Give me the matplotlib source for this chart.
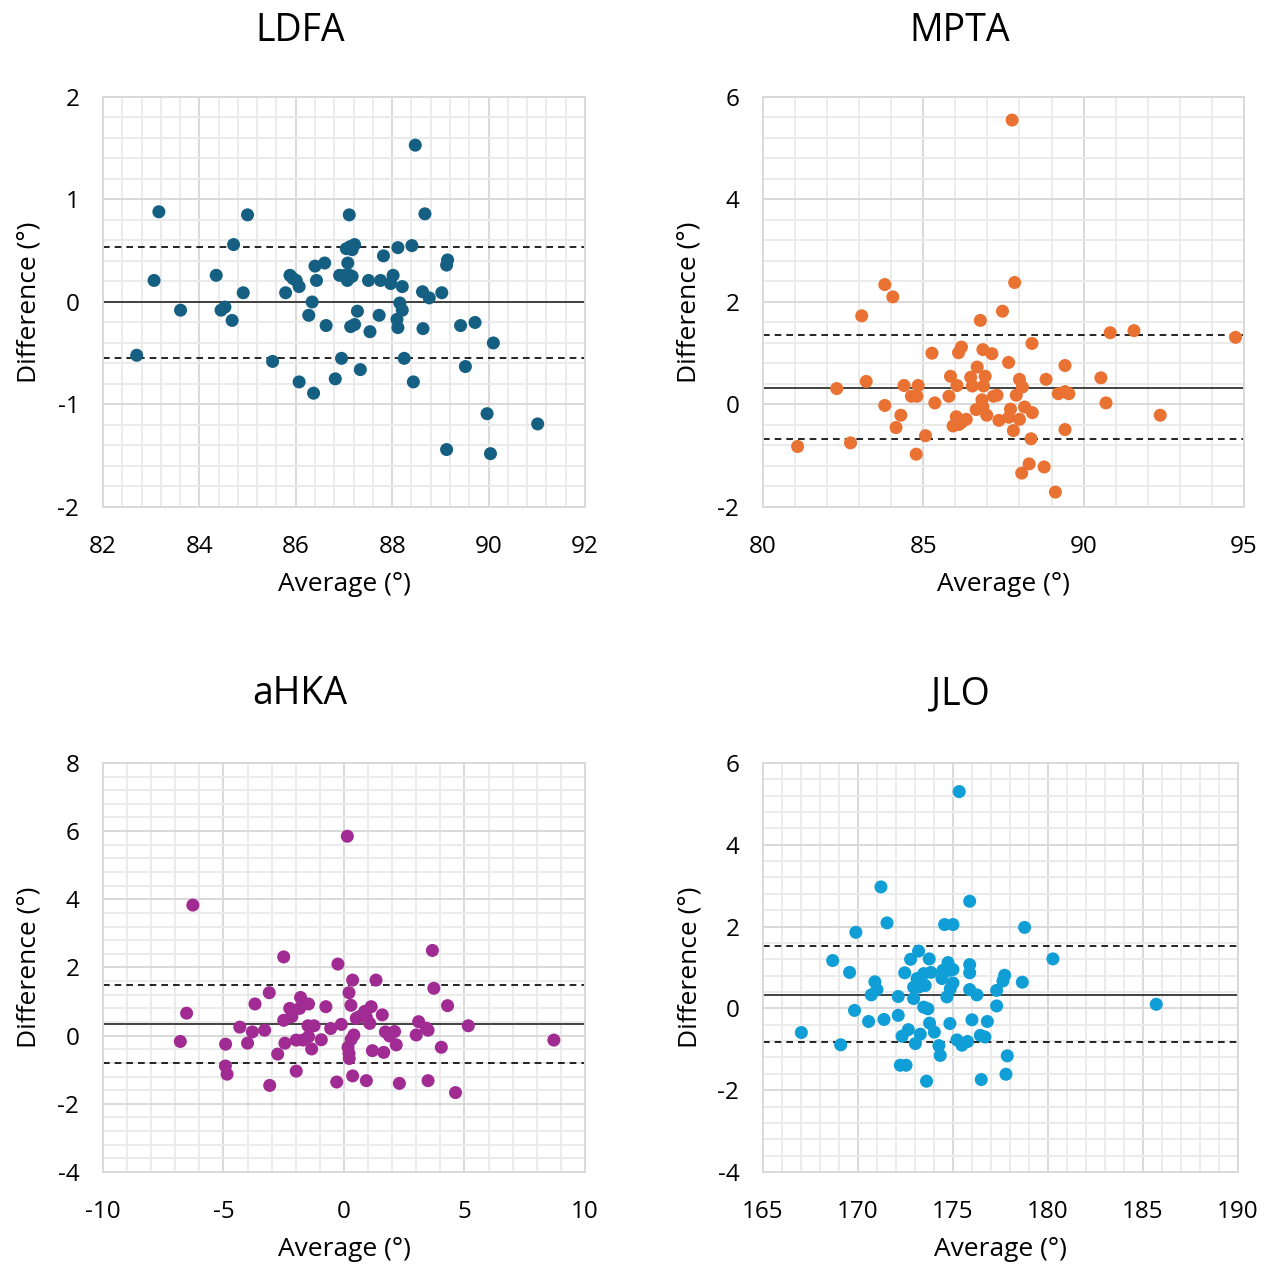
import numpy as np
import matplotlib
matplotlib.use('Agg')
import matplotlib.pyplot as plt
from matplotlib.ticker import MultipleLocator

plt.rcParams['font.family'] = ['Open Sans', 'DejaVu Sans']
plt.rcParams['axes.unicode_minus'] = False

# LDFA
ldfa_avg = [88.48, 83.16, 85.00, 87.11, 88.68, 84.71, 87.05, 87.13, 87.22, 87.17,
            88.12, 88.41, 87.82, 89.15, 89.13, 86.60, 86.40, 87.08, 83.06, 84.35,
            85.88, 85.94, 86.01, 86.07, 86.43, 86.91, 87.02, 87.12, 87.07, 87.17,
            87.51, 87.76, 88.02, 87.97, 88.21, 84.91, 85.79, 88.63, 88.77, 89.03,
            86.34, 88.16, 88.21, 83.61, 84.45, 84.53, 87.28, 86.27, 87.73, 84.68,
            88.10, 88.12, 86.63, 87.14, 87.22, 88.64, 87.54, 89.42, 89.72, 90.10,
            82.70, 85.52, 86.95, 88.25, 87.34, 89.52, 86.07, 86.82, 88.44, 86.37,
            89.97, 91.02, 89.13, 90.04]
ldfa_diff = [1.53, 0.88, 0.85, 0.85, 0.86, 0.56, 0.52, 0.54, 0.56, 0.51,
             0.53, 0.55, 0.45, 0.41, 0.36, 0.38, 0.35, 0.38, 0.21, 0.26,
             0.26, 0.23, 0.21, 0.15, 0.21, 0.26, 0.26, 0.26, 0.21, 0.25,
             0.21, 0.21, 0.26, 0.18, 0.15, 0.09, 0.09, 0.10, 0.04, 0.09,
             0.00, -0.01, -0.08, -0.08, -0.08, -0.05, -0.09, -0.13, -0.13, -0.18,
             -0.17, -0.25, -0.23, -0.24, -0.22, -0.26, -0.29, -0.23, -0.20, -0.40,
             -0.52, -0.58, -0.55, -0.55, -0.66, -0.63, -0.78, -0.75, -0.78, -0.89,
             -1.09, -1.19, -1.44, -1.48]
ldfa_lines = [0.0, 0.54, -0.545]

# MPTA
mpta_avg = [87.77, 87.85, 83.80, 84.05, 83.08, 87.47, 86.78, 90.83, 91.57, 94.74,
            88.39, 85.27, 86.10, 86.19, 86.86, 87.14, 87.66, 86.68, 89.42, 85.85,
            86.48, 86.93, 88.00, 88.83, 90.54, 83.22, 82.30, 84.40, 84.84, 86.05,
            86.53, 86.88, 88.09, 87.90, 87.30, 87.19, 89.21, 89.42, 89.54, 84.63,
            84.80, 85.80, 86.83, 90.70, 85.36, 83.80, 86.86, 86.65, 88.16, 87.72,
            88.40, 86.98, 84.30, 86.03, 86.34, 86.19, 87.36, 87.67, 88.00, 92.39,
            85.93, 86.11, 84.15, 89.42, 87.81, 85.07, 88.36, 82.73, 81.08, 84.78,
            88.30, 88.07, 88.77, 89.12]
mpta_diff = [5.55, 2.38, 2.34, 2.10, 1.73, 1.82, 1.64, 1.40, 1.44, 1.31,
             1.19, 1.00, 1.01, 1.12, 1.07, 0.99, 0.82, 0.73, 0.76, 0.55,
             0.53, 0.55, 0.49, 0.49, 0.52, 0.45, 0.31, 0.37, 0.37, 0.37,
             0.36, 0.36, 0.34, 0.18, 0.18, 0.16, 0.21, 0.25, 0.21, 0.16,
             0.16, 0.16, 0.09, 0.03, 0.03, -0.02, -0.05, -0.10, -0.05, -0.09,
             -0.16, -0.21, -0.21, -0.24, -0.29, -0.35, -0.31, -0.25, -0.29, -0.21,
             -0.42, -0.39, -0.45, -0.49, -0.51, -0.61, -0.67, -0.75, -0.82, -0.97,
             -1.16, -1.34, -1.22, -1.71]
mpta_lines = [0.33, 1.36, -0.68]

# aHKA
ahka_avg = [0.14, -6.27, -2.50, -0.25, 3.67, 0.36, 1.33, 3.73, 0.21, -3.10,
            -3.69, -1.80, -1.47, -1.84, -2.25, -2.16, -0.75, 0.29, 1.13, 0.86,
            0.65, 0.51, 0.93, 1.59, 4.30, -6.53, -2.50, -0.11, 1.07, 3.10,
            3.42, 3.49, 3.00, 5.16, -4.32, -1.49, -1.24, -0.55, -3.29, -3.80,
            1.72, 2.10, 1.89, 0.41, -1.47, -1.70, -1.98, 0.30, -0.94, -6.79,
            8.71, -4.00, -2.45, -4.91, 2.17, 0.17, 0.21, -1.34, 4.04, 1.18,
            1.65, -2.75, 0.22, -4.92, -4.85, -1.98, 0.36, -0.30, 0.93, 2.30,
            3.49, -3.08, 4.63]
ahka_diff = [5.85, 3.83, 2.31, 2.10, 2.50, 1.63, 1.63, 1.39, 1.26, 1.26,
             0.93, 1.12, 0.93, 0.80, 0.80, 0.56, 0.85, 0.89, 0.85, 0.71,
             0.56, 0.51, 0.54, 0.61, 0.88, 0.66, 0.45, 0.33, 0.36, 0.41,
             0.22, 0.16, 0.02, 0.29, 0.25, 0.29, 0.29, 0.21, 0.16, 0.11,
             0.11, 0.12, -0.01, 0.02, -0.03, -0.13, -0.13, -0.11, -0.12, -0.17,
             -0.13, -0.22, -0.22, -0.25, -0.27, -0.34, -0.52, -0.39, -0.34, -0.44,
             -0.49, -0.54, -0.67, -0.89, -1.13, -1.04, -1.18, -1.36, -1.32, -1.40,
             -1.32, -1.46, -1.67]
ahka_lines = [0.33, 1.48, -0.81]

# JLO
jlo_avg = [175.33, 171.21, 175.88, 171.53, 174.56, 175.00, 178.77, 169.89, 168.67, 180.26,
           173.19, 172.77, 173.75, 174.74, 174.82, 174.47, 175.00, 175.88, 175.88, 169.56,
           172.46, 173.46, 173.84, 173.11, 173.28, 173.54, 172.93, 173.19, 174.42, 175.00,
           174.86, 170.89, 171.00, 170.70, 177.72, 177.63, 178.65, 175.88, 176.26, 177.30,
           172.12, 172.93, 174.68, 173.46, 173.68, 177.30, 169.82, 172.12, 170.56, 171.37,
           173.77, 174.84, 176.00, 176.81, 172.65, 172.32, 173.28, 174.02, 173.02, 167.02,
           169.09, 175.21, 175.47, 175.77, 176.44, 176.68, 174.26, 174.33, 177.86, 172.23,
           172.53, 177.79, 173.61, 176.49, 185.70]
jlo_diff = [5.30, 2.97, 2.62, 2.09, 2.05, 2.05, 1.98, 1.86, 1.17, 1.21,
            1.40, 1.20, 1.21, 1.12, 0.93, 0.93, 0.95, 1.07, 0.87, 0.88,
            0.87, 0.85, 0.88, 0.73, 0.64, 0.56, 0.52, 0.52, 0.73, 0.62,
            0.48, 0.65, 0.46, 0.33, 0.81, 0.67, 0.64, 0.46, 0.33, 0.44,
            0.29, 0.24, 0.28, 0.03, -0.01, 0.06, -0.05, -0.17, -0.32, -0.27,
            -0.36, -0.37, -0.28, -0.32, -0.52, -0.68, -0.63, -0.58, -0.86, -0.59,
            -0.89, -0.77, -0.90, -0.81, -0.66, -0.70, -0.91, -1.15, -1.16, -1.39,
            -1.39, -1.61, -1.78, -1.74, 0.10]
jlo_lines = [0.33, 1.52, -0.82]

panels = [
    # title, x, y, lines, colour, xlim, xmajor, xminor, ylim, ymajor, yminor, rect
    ('LDFA', ldfa_avg, ldfa_diff, ldfa_lines, '#156082', (82, 92), 2, 0.4, (-2, 2), 1, 0.2,
     [0.0812, 0.6002, 0.3801, 0.3233]),
    ('MPTA', mpta_avg, mpta_diff, mpta_lines, '#E97132', (80, 95), 5, 1, (-2, 6), 2, 0.4,
     [0.6017, 0.6002, 0.3793, 0.3233]),
    ('aHKA', ahka_avg, ahka_diff, ahka_lines, '#A02B93', (-10, 10), 5, 1, (-4, 8), 2, 0.4,
     [0.0812, 0.0757, 0.3801, 0.3226]),
    ('JLO', jlo_avg, jlo_diff, jlo_lines, '#0F9ED5', (165, 190), 5, 1, (-4, 6), 2, 0.4,
     [0.6017, 0.0757, 0.3746, 0.3226]),
]
title_pos = [(300, 31), (960, 31), (300, 694), (960, 694)]

fig = plt.figure(figsize=(12.68, 12.68), dpi=100)

for (name, xs, ys, lines, col, xlim, xmaj, xmin, ylim, ymaj, ymin, rect), (tx, ty) in zip(panels, title_pos):
    ax = fig.add_axes(rect)
    ax.set_xlim(*xlim)
    ax.set_ylim(*ylim)
    ax.xaxis.set_major_locator(MultipleLocator(xmaj))
    ax.xaxis.set_minor_locator(MultipleLocator(xmin))
    ax.yaxis.set_major_locator(MultipleLocator(ymaj))
    ax.yaxis.set_minor_locator(MultipleLocator(ymin))
    ax.grid(which='minor', color='#ebebeb', lw=1.4)
    ax.grid(which='major', color='#d9d9d9', lw=1.4)
    ax.set_axisbelow(True)
    for s in ax.spines.values():
        s.set_color('#d9d9d9')
        s.set_linewidth(1.4)
    ax.tick_params(which='both', length=0, labelsize=17.5)
    ax.tick_params(axis='x', pad=20)
    ax.tick_params(axis='y', pad=17)

    mean, upper, lower = lines
    ax.axhline(mean, color='#333333', lw=1.3, zorder=2)
    ax.axhline(upper, color='black', lw=1.2, ls=(0, (4, 3)), zorder=2)
    ax.axhline(lower, color='black', lw=1.2, ls=(0, (4, 3)), zorder=2)
    ax.scatter(xs, ys, s=88, color=col, edgecolors='none', zorder=3)

    ax.set_xlabel('Average (°)', fontsize=19)
    ax.set_ylabel('Difference (°)', fontsize=19)
    ax.xaxis.set_label_coords(0.5, -0.158)
    ax.yaxis.set_label_coords(-0.127, 0.5)

    fig.text(tx / 1268, 1 - ty / 1268, name, fontsize=27, ha='center', va='center')

fig.savefig('out.png', dpi=100)
